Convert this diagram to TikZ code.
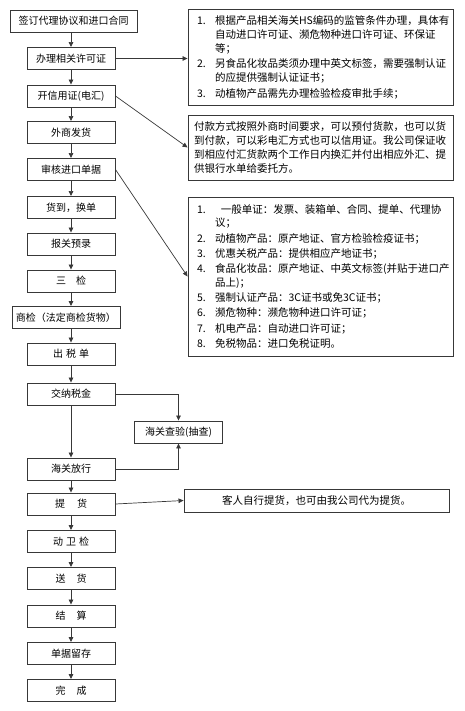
\documentclass[tikz,border=0pt]{standalone}
\usepackage{fontspec}
\setmainfont{Noto Sans CJK SC}
\usetikzlibrary{arrows.meta}
\definecolor{linegray}{gray}{.22}

\newcommand{\nr}[1]{\makebox[21pt][l]{\hspace{3pt}#1}}
\newcommand{\ein}{\hspace*{21pt}}

\begin{document}
\begin{tikzpicture}[x=1pt,y=-1pt,
  proc/.style={draw=linegray, line width=0.9pt, minimum width=88pt, minimum height=22pt, inner sep=1pt, font=\fontsize{10}{12}\selectfont},
  note/.style={draw=linegray, line width=0.9pt, minimum width=265pt, inner xsep=6pt, inner ysep=0pt, text width=253pt, align=left, font=\fontsize{10.5}{14}\selectfont},
  flow/.style={draw=linegray, line width=0.7pt, -{Triangle[length=5pt,width=4.5pt]}}]
  \useasboundingbox (0,0) rectangle (465,711);

  % left column
  \node[proc, minimum width=127pt] (b1) at (73.5,21) {签订代理协议和进口合同};
  \node[proc] (b2) at (71,58.5) {办理相关许可证};
  \node[proc] (b3) at (71,96) {开信用证(电汇)};
  \node[proc] (b4) at (71,132.5) {外商发货};
  \node[proc] (b5) at (71,169.5) {审核进口单据};
  \node[proc] (b6) at (71,207.5) {货到，换单};
  \node[proc] (b7) at (71,244) {报关预录};
  \node[proc] (b8) at (71,281) {三\quad 检};
  \node[proc, minimum width=108pt] (b9) at (66,317.5) {商检（法定商检货物）};
  \node[proc] (b10) at (71,354) {出\hspace{3pt}税\hspace{3pt}单};
  \node[proc] (b11) at (71,394) {交纳税金};
  \node[proc] (chk) at (178.5,432) {海关查验(抽查)};
  \node[proc] (b13) at (71,469) {海关放行};
  \node[proc] (b14) at (71,504) {提\hspace{12pt}货};
  \node[proc] (b15) at (71,541.5) {动\hspace{3pt}卫\hspace{3pt}检};
  \node[proc] (b16) at (71,578.5) {送\hspace{11pt}货};
  \node[proc] (b17) at (71,616) {结\hspace{11pt}算};
  \node[proc] (b18) at (71,653.5) {单据留存};
  \node[proc] (b19) at (71,690.5) {完\hspace{11pt}成};

  % notes on the right
  \node[note, minimum height=96pt] (n1) at (320.5,57) {%
    \nr{1.}根据产品相关海关HS编码的监管条件办理，具体有\\
    \ein 自动进口许可证、濒危物种进口许可证、环保证\\
    \ein 等；\\[1.5pt]
    \nr{2.}另食品化妆品类须办理中英文标签，需要强制认证\\
    \ein 的应提供强制认证证书；\\[1.5pt]
    \nr{3.}动植物产品需先办理检验检疫审批手续；};
  \node[note, minimum height=65pt] (n2) at (320.5,147.5) {%
    付款方式按照外商时间要求，可以预付货款，也可以货\\
    到付款，可以彩电汇方式也可以信用证。我公司保证收\\
    到相应付汇货款两个工作日内换汇并付出相应外汇、提\\
    供银行水单给委托方。};
  \node[note, minimum height=159pt, font=\fontsize{10.5}{13.5}\selectfont] (n3) at (320.5,276.5) {%
    \nr{1.}\hspace{6pt}一般单证：发票、装箱单、合同、提单、代理协\\
    \ein 议；\\[1.8pt]
    \nr{2.}动植物产品：原产地证、官方检验检疫证书；\\[1.8pt]
    \nr{3.}优惠关税产品：提供相应产地证书；\\[1.8pt]
    \nr{4.}食品化妆品：原产地证、中英文标签(并贴于进口产\\
    \ein 品上)；\\[1.8pt]
    \nr{5.}强制认证产品：3C证书或免3C证书；\\[1.8pt]
    \nr{6.}濒危物种：濒危物种进口许可证；\\[1.8pt]
    \nr{7.}机电产品：自动进口许可证；\\[1.8pt]
    \nr{8.}免税物品：进口免税证明。};
  \node[note, minimum height=23pt, align=center] (n4) at (316.5,500.5) {客人自行提货，也可由我公司代为提货。};

  % main flow
  \draw[flow] (b2.north |- b1.south) -- (b2.north);
  \draw[flow] (b2.south) -- (b3.north);
  \draw[flow] (b3.south) -- (b4.north);
  \draw[flow] (b4.south) -- (b5.north);
  \draw[flow] (b5.south) -- (b6.north);
  \draw[flow] (b6.south) -- (b7.north);
  \draw[flow] (b7.south) -- (b8.north);
  \draw[flow] (b8.south) -- (b8.south |- b9.north);
  \draw[flow] (b10.north |- b9.south) -- (b10.north);
  \draw[flow] (b10.south) -- (b11.north);
  \draw[flow] (b11.south) -- (b13.north);
  \draw[flow] (b13.south) -- (b14.north);
  \draw[flow] (b14.south) -- (b15.north);
  \draw[flow] (b15.south) -- (b16.north);
  \draw[flow] (b16.south) -- (b17.north);
  \draw[flow] (b17.south) -- (b18.north);
  \draw[flow] (b18.south) -- (b19.north);

  % side branches
  \draw[flow] (b11.east) -| (chk.north);
  \draw[flow] (b13.east) -| (chk.south);
  \draw[flow] (b2.east) -- (n1.west |- b2.east);
  \draw[flow] (b3.east) -- (n2.west);
  \draw[flow] (b5.east) -- (n3.west);
  \draw[flow] (b14.east) -- (n4.west);

\end{tikzpicture}
\end{document}
